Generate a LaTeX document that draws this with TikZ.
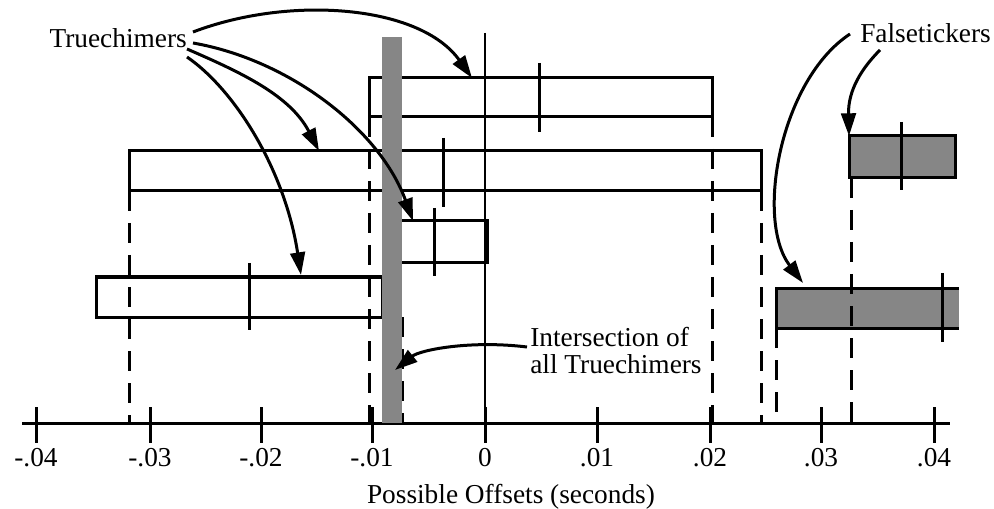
\documentclass[tikz,border=0pt]{standalone}
\usepackage{fontspec}
\setmainfont{Liberation Serif}
\usetikzlibrary{arrows.meta}
\definecolor{bargray}{RGB}{134,134,134}
\begin{document}
\begin{tikzpicture}[x=0.75pt,y=-0.75pt,
  every node/.style={font=\fontsize{20.5}{20.25}\selectfont, inner sep=0pt},
  tbox/.style={draw, line width=2.25pt, inner sep=0pt, outer sep=0pt, rectangle},
  gbox/.style={tbox, fill=bargray},
  lw/.style={line width=2.25pt},
  dline/.style={line width=2.25pt, dash pattern=on 15pt off 9pt},
  arr/.style={line width=2.25pt, -{Triangle[length=17pt,width=11pt]}}
]
\useasboundingbox (0,0) rectangle (994,509);

% axis
\coordinate (axL) at (22,423);
\coordinate (axR) at (950,423);
\draw[lw] (axL) -- (axR);
\foreach \x/\t [count=\i] in {36/-.04,150/-.03,261/-.02,372/-.01,485/0,597/.01,710/.02,821/.03,934/.04}{
  \draw[lw] (\x,407) -- (\x,443);
  \node[anchor=base] (tick\i) at (\x,466) {\t};
}
\node[anchor=base] (xlab) at (511,503) {Possible Offsets (seconds)};

% zero line
\draw[line width=1.1pt] (485,33) -- (485,423);

% truechimer boxes
\node[tbox, minimum width=257.25pt, minimum height=29.25pt] (box1) at (540.5,97.5) {};
\node[tbox, minimum width=474pt, minimum height=30pt] (box2) at (445,171) {};
\node[tbox, minimum width=69pt, minimum height=31.5pt] (box3) at (441,242) {};
\node[tbox, minimum width=214.5pt, minimum height=30pt] (box4) at (239,297) {};

% falseticker boxes
\node[gbox, minimum width=79.5pt, minimum height=31.5pt] (box5) at (902,157) {};
\node[fill=bargray, outer sep=0pt, minimum width=137.25pt, minimum height=30pt] (box6) at (867.5,308) {};
\draw[lw] (box6.north east) -- (box6.north west) -- (box6.south west) -- (box6.south east);

% center ticks
\draw[lw] (539,63) -- (539,132);
\draw[lw] (443,138) -- (443,207);
\draw[lw] (434,208) -- (434,276);
\draw[lw] (249,263) -- (249,330);
\draw[lw] (901,122) -- (901,190);
\draw[lw] (942,273) -- (942,342);

% dashed extension lines
\draw[dline] (box2.south west) -- (box2.south west |- axL);
\draw[dline] (box1.south west) -- (box1.south west |- axL);
\draw[dline] ([shift={(20,0)}]box4.south east) -- ([shift={(20,0)}]box4.south east |- axL);
\draw[dline] (box1.south east) -- (box1.south east |- axL);
\draw[dline] (box2.south east) -- (box2.south east |- axL);
\draw[dline] (box6.south west) -- (box6.south west |- axL);
\draw[dline] ([shift={(2,0)}]box5.south west) -- ([shift={(2,0)}]box5.south west |- axL);

% intersection bar
\node[fill=bargray, outer sep=0pt, minimum width=15pt, minimum height=289.5pt] (bar) at (392,230) {};

% labels
\node[anchor=base east] (tc) at (187,48) {Truechimers};
\node[anchor=base west] (ft) at (860,43) {Falsetickers};
\node[anchor=north west, align=left] (int) at (530,327) {Intersection of\\all Truechimers};

% arrows
\draw[arr] ([shift={(6,-16)}]tc.base east) .. controls (290,-5) and (420,5) .. ([shift={(103,0)}]box1.north west);
\draw[arr] ([shift={(6,-5)}]tc.base east) .. controls (290,60) and (380,130) .. ([shift={(18,0)}]box3.north west);
\draw[arr] ([shift={(0,1)}]tc.base east) .. controls (240,72) and (290,95) .. ([shift={(190,0)}]box2.north west);
\draw[arr] ([shift={(0,9)}]tc.base east) .. controls (235,90) and (285,170) .. ([shift={(205,-2)}]box4.north west);
\draw[arr] ([shift={(-10,-9)}]ft.base west) .. controls (780,80) and (755,220) .. ([shift={(27,-5)}]box6.north west);
\draw[arr] ([shift={(20,7)}]ft.base west) .. controls (862,68) and (848,90) .. (box5.north west);
\draw[arr] ([shift={(-3,20)}]int.north west) .. controls (470,340) and (420,350) .. ([shift={(13,140)}]bar.west);
\end{tikzpicture}
\end{document}
